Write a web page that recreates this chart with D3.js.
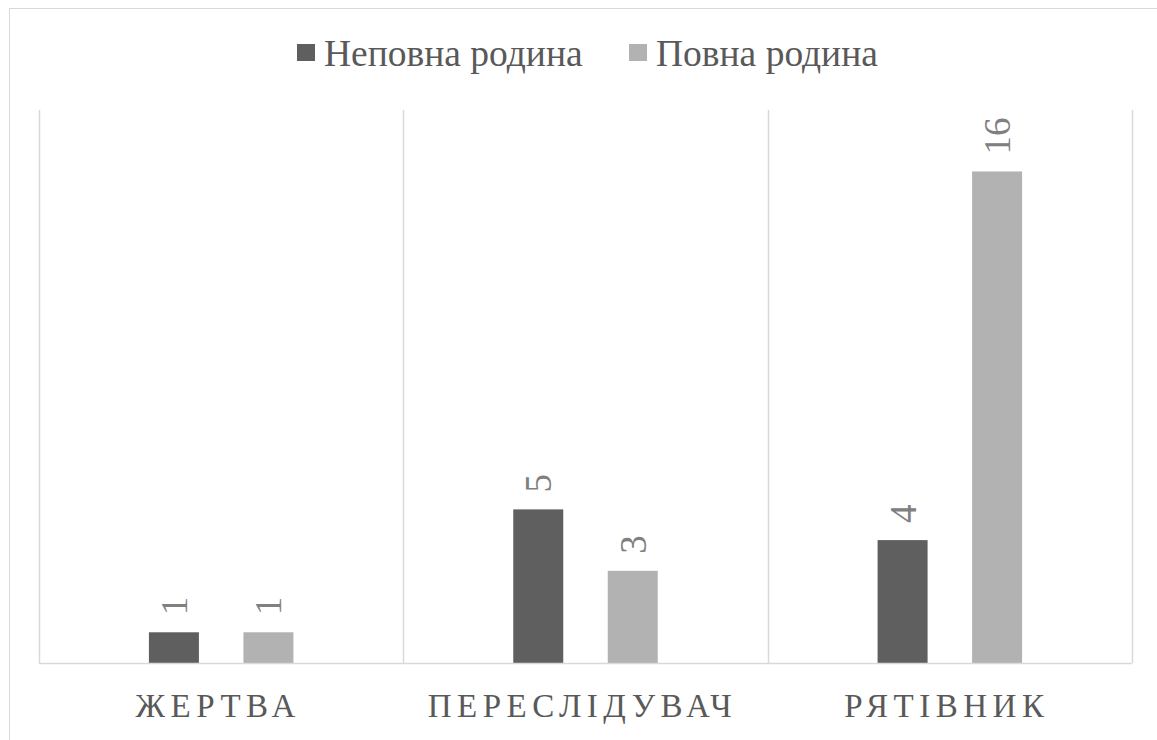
<!DOCTYPE html>
<html>
<head>
<meta charset="utf-8">
<script src="https://cdn.jsdelivr.net/npm/d3@7"></script>
<style>
  html, body { margin: 0; padding: 0; background: #fff; }
</style>
</head>
<body>
<svg id="chart" width="1157" height="740"></svg>
<script>
// Roles and counts per family type
const categories = ["ЖЕРТВА", "ПЕРЕСЛІДУВАЧ", "РЯТІВНИК"];
const seriesNames = ["Неповна родина", "Повна родина"];
const incompleteFamily = [1, 5, 4];
const completeFamily = [1, 3, 16];
const seriesColors = ["#5f5f5f", "#b2b2b2"];

const series = [incompleteFamily, completeFamily];
const FONT = '"Liberation Serif", "Times New Roman", serif';

const svg = d3.select("#chart");

// Outer chart frame
svg.append("rect")
  .attr("x", 9.5).attr("y", 8.5)
  .attr("width", 1160).attr("height", 760)
  .attr("fill", "#fff").attr("stroke", "#d9d9d9").attr("stroke-width", 1);

const plot = { left: 39, right: 1132, top: 110, bottom: 663 };

const x = d3.scaleBand()
  .domain(categories)
  .range([plot.left, plot.right])
  .paddingInner(0).paddingOuter(0);

const barW = 50, barGap = 44.5;
const groupW = barW * 2 + barGap;
const xSub = d3.scaleBand()
  .domain(d3.range(series.length))
  .range([0, groupW])
  .paddingInner(barGap / (barW + barGap))
  .paddingOuter(0);

const y = d3.scaleLinear().domain([0, 18]).range([plot.bottom, plot.top]);

// Category separator lines and plot left border
const g = svg.append("g");
const sepXs = [plot.left].concat(categories.map(c => x(c) + x.bandwidth()));
g.selectAll("line.sep").data(sepXs).enter().append("line")
  .attr("class", "sep")
  .attr("x1", d => Math.round(d) + 0.5).attr("x2", d => Math.round(d) + 0.5)
  .attr("y1", plot.top).attr("y2", plot.bottom)
  .attr("stroke", "#d9d9d9").attr("stroke-width", 1.5);

// Bars with rotated value labels
categories.forEach((cat, ci) => {
  const groupLeft = x(cat) + (x.bandwidth() - groupW) / 2;
  series.forEach((vals, si) => {
    const v = vals[ci];
    const bx = groupLeft + xSub(si);
    g.append("rect")
      .attr("x", bx).attr("y", y(v))
      .attr("width", xSub.bandwidth()).attr("height", y(0) - y(v))
      .attr("fill", seriesColors[si]);
    const cx = bx + xSub.bandwidth() / 2;
    g.append("text")
      .attr("transform", `translate(${cx + 13},${y(v) - 17}) rotate(-90)`)
      .attr("text-anchor", "start")
      .style("font-family", FONT)
      .style("font-size", "37px")
      .attr("fill", "#808080")
      .text(v);
  });
});

// Baseline
g.append("line")
  .attr("x1", plot.left).attr("x2", plot.right)
  .attr("y1", plot.bottom + 0.5).attr("y2", plot.bottom + 0.5)
  .attr("stroke", "#d9d9d9").attr("stroke-width", 1.5);

// Category labels
const LS = 5.5;
const xAxis = d3.axisBottom(x).tickSize(0).tickPadding(0);
const ax = svg.append("g")
  .attr("transform", `translate(0,${plot.bottom})`)
  .call(xAxis);
ax.select(".domain").remove();
ax.selectAll("text")
  .attr("dy", null)
  .attr("y", 54)
  .attr("x", -3)
  .style("font-family", FONT)
  .style("font-size", "33px")
  .style("letter-spacing", LS + "px")
  .attr("fill", "#595959");

// Legend
const legendItems = [
  { name: seriesNames[0], color: seriesColors[0], x: 297 },
  { name: seriesNames[1], color: seriesColors[1], x: 629 }
];
const lg = svg.append("g");
legendItems.forEach(item => {
  lg.append("rect")
    .attr("x", item.x).attr("y", 44)
    .attr("width", 18).attr("height", 17)
    .attr("fill", item.color);
  lg.append("text")
    .attr("x", item.x + 27).attr("y", 66)
    .style("font-family", FONT)
    .style("font-size", "37.5px")
    .attr("fill", "#595959")
    .text(item.name);
});
</script>
</body>
</html>
